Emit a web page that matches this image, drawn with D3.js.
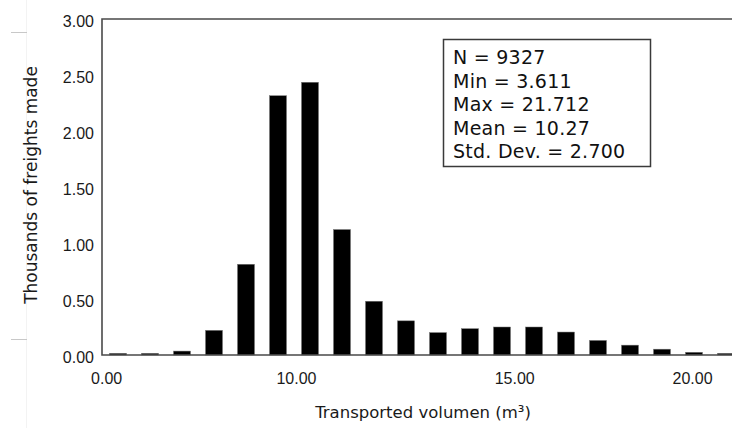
<!DOCTYPE html>
<html>
<head>
<meta charset="utf-8">
<script src="https://cdn.jsdelivr.net/npm/d3@7"></script>
<style>
  html, body { margin: 0; padding: 0; background: #fff; }
  svg { display: block; }
</style>
</head>
<body>
<svg id="chart" width="732" height="428"></svg>
<script>
// ---- data ----
const binLabels = ["b1","b2","b3","b4","b5","b6","b7","b8","b9","b10","b11","b12","b13","b14","b15","b16","b17","b18","b19","b20"];
const freights = [0.015, 0.015, 0.035, 0.22, 0.81, 2.315, 2.435, 1.12, 0.48, 0.305, 0.20, 0.235, 0.25, 0.25, 0.205, 0.13, 0.088, 0.052, 0.024, 0.015];
const xTickLabels = ["0.00", "10.00", "15.00", "20.00"];
const xTickBins = [0.13, 6.06, 12.88, 18.44];
const yTicks = [0, 0.5, 1.0, 1.5, 2.0, 2.5, 3.0];
const statsLines = ["N = 9327", "Min = 3.611", "Max = 21.712", "Mean = 10.27", "Std. Dev. = 2.700"];

// ---- layout ----
const svg = d3.select("#chart");
const mLeft = 102, mTop = 19, mBottom = 355, mRight = 732;
const x = d3.scaleLinear().domain([0, (mRight - mLeft) / 32]).range([mLeft, mRight]);
const y = d3.scaleLinear().domain([0, 3]).range([mBottom, mTop]);
const barW = 17;

// faint artifacts on the left
svg.append("line").attr("x1", 26.5).attr("x2", 26.5).attr("y1", 0).attr("y2", 428).attr("stroke", "#f3f3f3").attr("stroke-width", 1);
[32.5, 339.5].forEach(yy => svg.append("line").attr("x1", 11).attr("x2", 27).attr("y1", yy).attr("y2", yy).attr("stroke", "#c8c8c8").attr("stroke-width", 1));

// bars
svg.append("g").selectAll("rect").data(freights).join("rect")
  .attr("x", (d, i) => x(i + 0.5) - barW / 2)
  .attr("width", barW)
  .attr("y", d => y(d))
  .attr("height", d => y(0) - y(d))
  .attr("fill", "#000")
  .attr("stroke", "#777")
  .attr("stroke-width", 0.5);

// frame lines
const frame = svg.append("g").attr("stroke", "#4a4a4a").attr("stroke-width", 1.6).attr("fill", "none");
frame.append("path").attr("d", `M${mRight},${mTop}H${mLeft}V${mBottom}H${mRight}`);

// y axis
const yAxis = svg.append("g").attr("transform", `translate(${mLeft},0)`)
  .call(d3.axisLeft(y).tickValues(yTicks).tickFormat(d3.format(".2f")).tickSize(0).tickPadding(8));
yAxis.select(".domain").remove();
yAxis.attr("font-family", "'Liberation Sans', Arial, sans-serif").attr("font-size", 16);
yAxis.selectAll("text").attr("fill", "#1a1a1a").attr("dy", "0.45em");

// x axis
const xAxis = svg.append("g").attr("transform", `translate(0,${mBottom})`)
  .call(d3.axisBottom(x).tickValues(xTickBins).tickFormat((d, i) => xTickLabels[i]).tickSize(0).tickPadding(18));
xAxis.select(".domain").remove();
xAxis.attr("font-family", "'Liberation Sans', Arial, sans-serif").attr("font-size", 16);
xAxis.selectAll("text").attr("fill", "#1a1a1a");

// axis titles
svg.append("text")
  .attr("transform", "translate(31,185) rotate(-90)")
  .attr("text-anchor", "middle").attr("dominant-baseline", "central")
  .attr("font-family", "'DejaVu Sans', Verdana, sans-serif").attr("font-size", 17).attr("fill", "#1a1a1a")
  .text("Thousands of freights made");
svg.append("text")
  .attr("x", 423).attr("y", 418)
  .attr("text-anchor", "middle")
  .attr("font-family", "'DejaVu Sans', Verdana, sans-serif").attr("font-size", 16.5).attr("fill", "#1a1a1a")
  .text("Transported volumen (m³)");

// stats box
const box = svg.append("g");
box.append("rect").attr("x", 443.5).attr("y", 39.5).attr("width", 207).attr("height", 127)
  .attr("fill", "#fff").attr("stroke", "#3a3a3a").attr("stroke-width", 1.5);
box.selectAll("text").data(statsLines).join("text")
  .attr("x", 453).attr("y", (d, i) => 64 + i * 23.6)
  .attr("font-family", "'DejaVu Sans', Verdana, sans-serif").attr("font-size", 19).attr("letter-spacing", 0.25).attr("fill", "#111")
  .text(d => d);
</script>
</body>
</html>
